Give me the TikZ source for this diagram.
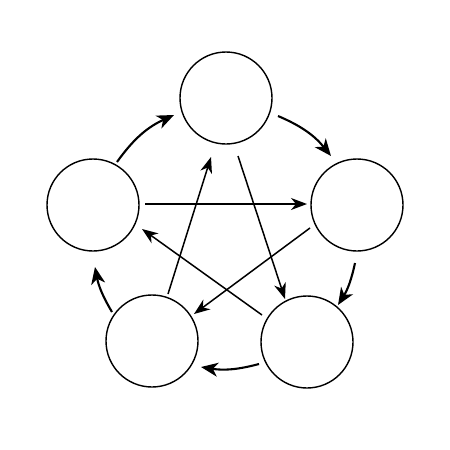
\documentclass[tikz,border=0pt]{standalone}
\usetikzlibrary{arrows.meta}
\begin{document}
\begin{tikzpicture}[x=1pt,y=-1pt,
  ring/.style={circle,draw=black,line width=1.4pt,minimum size=92pt,inner sep=0pt},
  link/.style={line width=1.5pt,-{Stealth[length=16pt,width=12pt,inset=5pt]}},
  cyc/.style={line width=2.1pt,-{Stealth[length=17pt,width=14pt,inset=5pt]}}]
\useasboundingbox[fill=white] (0,0) rectangle (450,450);
\node[ring] (T) at (226,98) {};
\node[ring] (R) at (357,205) {};
\node[ring] (L) at (93,205) {};
\node[ring] (BL) at (152,341) {};
\node[ring] (BR) at (307,342) {};
% star connectors
\coordinate (s1) at (145,204); \coordinate (e1) at (307,204);
\coordinate (s2) at (238,156); \coordinate (e2) at (285,299);
\coordinate (s3) at (168,294); \coordinate (e3) at (211,157);
\coordinate (s4) at (310,228); \coordinate (e4) at (194,314);
\coordinate (s5) at (262,315); \coordinate (e5) at (142,229);
\draw[link] (s1) -- (e1);
\draw[link] (s2) -- (e2);
\draw[link] (s3) -- (e3);
\draw[link] (s4) -- (e4);
\draw[link] (s5) -- (e5);
% cycle connectors
\coordinate (c1s) at (117,162); \coordinate (c1e) at (174,115);
\coordinate (c2s) at (278,116); \coordinate (c2e) at (331,156);
\coordinate (c3s) at (355,263); \coordinate (c3e) at (338,305);
\coordinate (c4s) at (259,364); \coordinate (c4e) at (201,367);
\coordinate (c5s) at (112,312); \coordinate (c5e) at (95,267);
\draw[cyc] (c1s) to[bend left=15] (c1e);
\draw[cyc] (c2s) to[bend left=14] (c2e);
\draw[cyc] (c3s) to[bend left=10] (c3e);
\draw[cyc] (c4s) to[bend left=12] (c4e);
\draw[cyc] (c5s) to[bend left=10] (c5e);
\end{tikzpicture}
\end{document}
